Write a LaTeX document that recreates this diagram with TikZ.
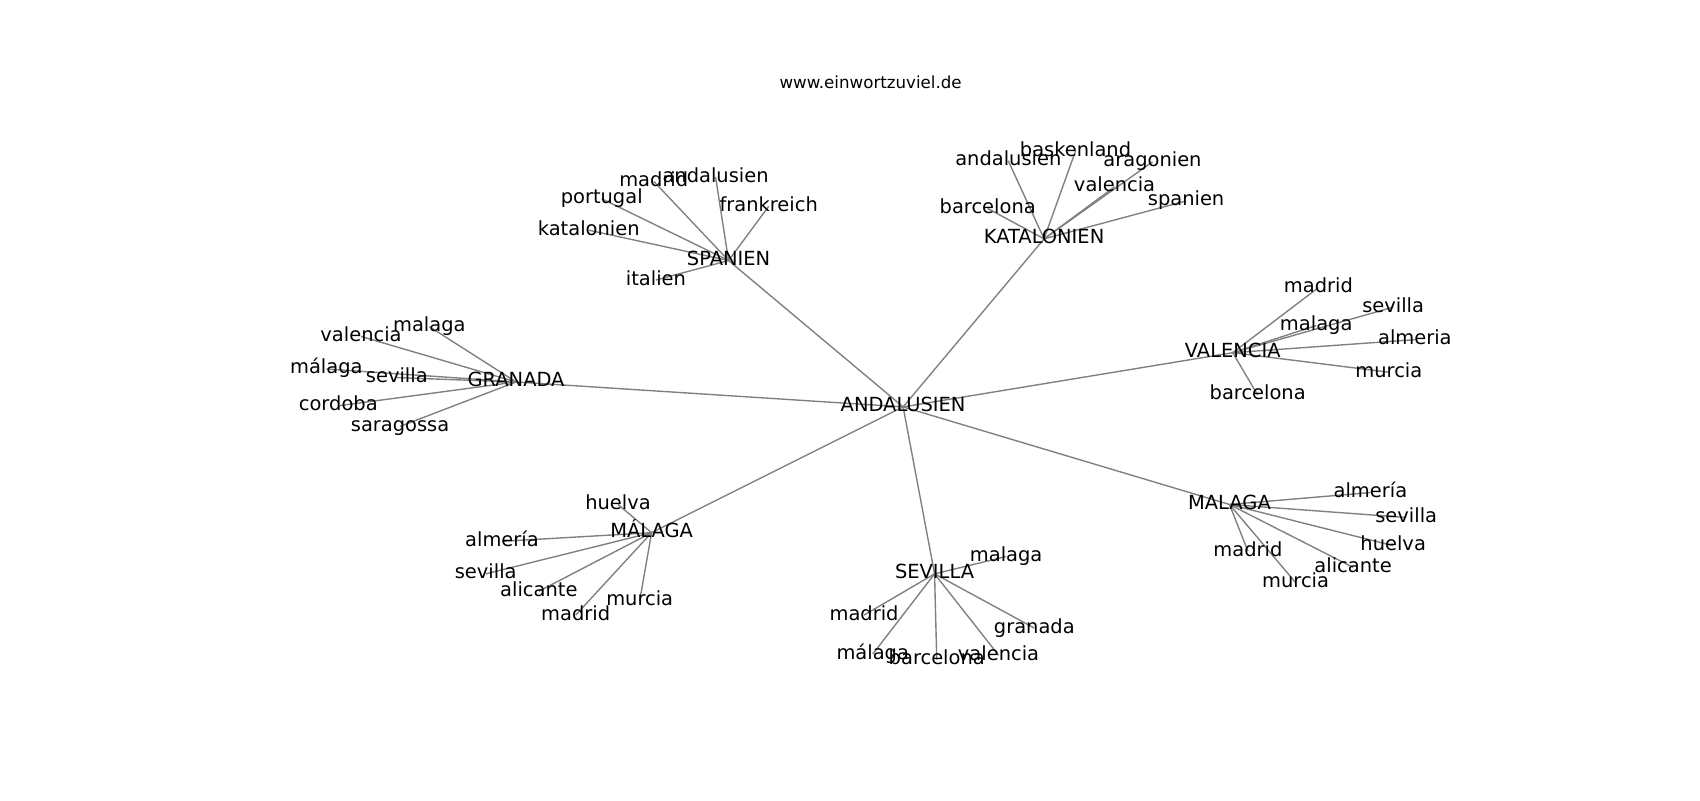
\documentclass[tikz,border=0pt]{standalone}
\usepackage{fontspec}
\setmainfont{DejaVu Sans}
\usetikzlibrary{backgrounds}
\tikzset{
  lbl/.style={inner sep=0pt, outer sep=0pt, text height=0.74em, text depth=0.02em, font=\fontsize{14}{16}\selectfont, text=black},
  ttl/.style={inner sep=0pt, font=\fontsize{12}{14}\selectfont, text=black},
  edge/.style={draw=gray, line width=1pt}
}
\begin{document}
\begin{tikzpicture}[x=0.7806pt, y=-0.7806pt]
\useasboundingbox (0,0) rectangle (1568,737.9);
\node[ttl] (title) at (803,75.5) {www.einwortzuviel.de};

\begin{scope}[shift={(0,2.3)}]
% hubs
\node[lbl] (and) at (833,373) {ANDALUSIEN};
\node[lbl] (spa) at (672,238) {SPANIEN};
\node[lbl] (kat) at (963,218) {KATALONIEN};
\node[lbl] (val) at (1137,323) {VALENCIA};
\node[lbl] (gra) at (476,350) {GRANADA};
\node[lbl] (mla) at (601,489) {MÁLAGA};
\node[lbl] (sev) at (862,527) {SEVILLA};
\node[lbl] (mal) at (1134,463) {MALAGA};

% SPANIEN leaves
\node[lbl] (spa1) at (603,165) {madrid};
\node[lbl] (spa2) at (660,161) {andalusien};
\node[lbl] (spa3) at (709,188) {frankreich};
\node[lbl] (spa4) at (555,181) {portugal};
\node[lbl] (spa5) at (543,210) {katalonien};
\node[lbl] (spa6) at (605,256) {italien};

% KATALONIEN leaves
\node[lbl] (kat1) at (930,146) {andalusien};
\node[lbl] (kat2) at (992,137) {baskenland};
\node[lbl] (kat3) at (1063,147) {aragonien};
\node[lbl] (kat4) at (1028,170) {valencia};
\node[lbl] (kat5) at (911,190) {barcelona};
\node[lbl] (kat6) at (1094,183) {spanien};

% VALENCIA leaves
\node[lbl] (val1) at (1216,263) {madrid};
\node[lbl] (val2) at (1285,281) {sevilla};
\node[lbl] (val3) at (1214,298) {malaga};
\node[lbl] (val4) at (1305,311) {almeria};
\node[lbl] (val5) at (1281,341) {murcia};
\node[lbl] (val6) at (1160,362) {barcelona};

% GRANADA leaves
\node[lbl] (gra1) at (396,299) {malaga};
\node[lbl] (gra2) at (333,308) {valencia};
\node[lbl] (gra3) at (301,338) {málaga};
\node[lbl] (gra4) at (366,346) {sevilla};
\node[lbl] (gra5) at (312,372) {cordoba};
\node[lbl] (gra6) at (369,391) {saragossa};

% MÁLAGA leaves
\node[lbl] (mla1) at (570,463) {huelva};
\node[lbl] (mla2) at (463,497) {almería};
\node[lbl] (mla3) at (448,527) {sevilla};
\node[lbl] (mla4) at (497,543) {alicante};
\node[lbl] (mla5) at (531,565) {madrid};
\node[lbl] (mla6) at (590,552) {murcia};

% SEVILLA leaves
\node[lbl] (sev1) at (928,511) {malaga};
\node[lbl] (sev2) at (797,565) {madrid};
\node[lbl] (sev3) at (805,601) {málaga};
\node[lbl] (sev4) at (864,606) {barcelona};
\node[lbl] (sev5) at (921,602) {valencia};
\node[lbl] (sev6) at (954,577) {granada};

% MALAGA leaves
\node[lbl] (mal1) at (1264,452) {almería};
\node[lbl] (mal2) at (1297,475) {sevilla};
\node[lbl] (mal3) at (1285,501) {huelva};
\node[lbl] (mal4) at (1248,521) {alicante};
\node[lbl] (mal5) at (1151,506) {madrid};
\node[lbl] (mal6) at (1195,535) {murcia};
\end{scope}

\begin{scope}[on background layer]
\foreach \h in {spa,kat,val,gra,mla,sev,mal}{
  \draw[edge] (and.center) -- (\h.center);
  \foreach \i in {1,...,6}{
    \draw[edge] (\h.center) -- (\h\i.center);
  }
}
\end{scope}
\end{tikzpicture}
\end{document}
